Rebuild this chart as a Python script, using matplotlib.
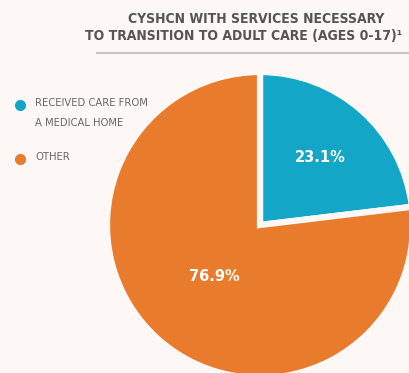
import numpy as np
from matplotlib import pyplot as plt

# data
labels = ["RECEIVED CARE FROM\nA MEDICAL HOME", "OTHER"]
values = [23.1, 76.9]
colors = ["#13A6C6", "#E97B2C"]
label_dist = [0.59, 0.45]

bg = "#FDF8F5"
textgray = "#555555"

fig = plt.figure(figsize=(4.09, 3.73), dpi=100, facecolor=bg)
ax = fig.add_axes([0, 0, 1, 1])
ax.set_facecolor(bg)

cx, cy, r = 260, 373 - 225, 153
wedges, texts, autotexts = ax.pie(values, colors=colors, startangle=90, counterclock=False,
                                  center=(cx, cy), radius=r,
                                  wedgeprops=dict(edgecolor=bg, linewidth=4.5),
                                  autopct="%.1f%%", pctdistance=0.5,
                                  textprops=dict(color="white", fontsize=10.5, fontweight="bold"))
for w, t, d in zip(wedges, autotexts, label_dist):
    ang = np.deg2rad((w.theta1 + w.theta2) / 2)
    x0, y0 = w.center
    t.set_position((x0 + d * r * np.cos(ang), y0 + d * r * np.sin(ang)))

ax.set_xlim(0, 409)
ax.set_ylim(0, 373)
ax.set_aspect("auto")
ax.axis("off")

# title
fig.text(256 / 409, 1 - 19 / 373, "CYSHCN WITH SERVICES NECESSARY", ha="center", va="center",
         fontsize=10, fontweight="bold", color=textgray, fontstretch="condensed")
fig.text(244 / 409, 1 - 36 / 373, "TO TRANSITION TO ADULT CARE (AGES 0-17)\u00b9", ha="center", va="center",
         fontsize=10, fontweight="bold", color=textgray, fontstretch="condensed")
fig.add_artist(plt.Line2D([97 / 409, 1], [1 - 53 / 373, 1 - 53 / 373], color="#c8c4c2", lw=1.5))

# legend
leg_y = [105, 159]
for c, lab, y in zip(colors, labels, leg_y):
    ax.plot(20, 373 - y, "o", color=c, markersize=7)
    ax.text(35, 373 - y + 7.5, lab, ha="left", va="top", fontsize=8, color="#666666",
            linespacing=2.3, fontstretch="condensed")

fig.savefig("out.png", dpi=100, facecolor=bg)
